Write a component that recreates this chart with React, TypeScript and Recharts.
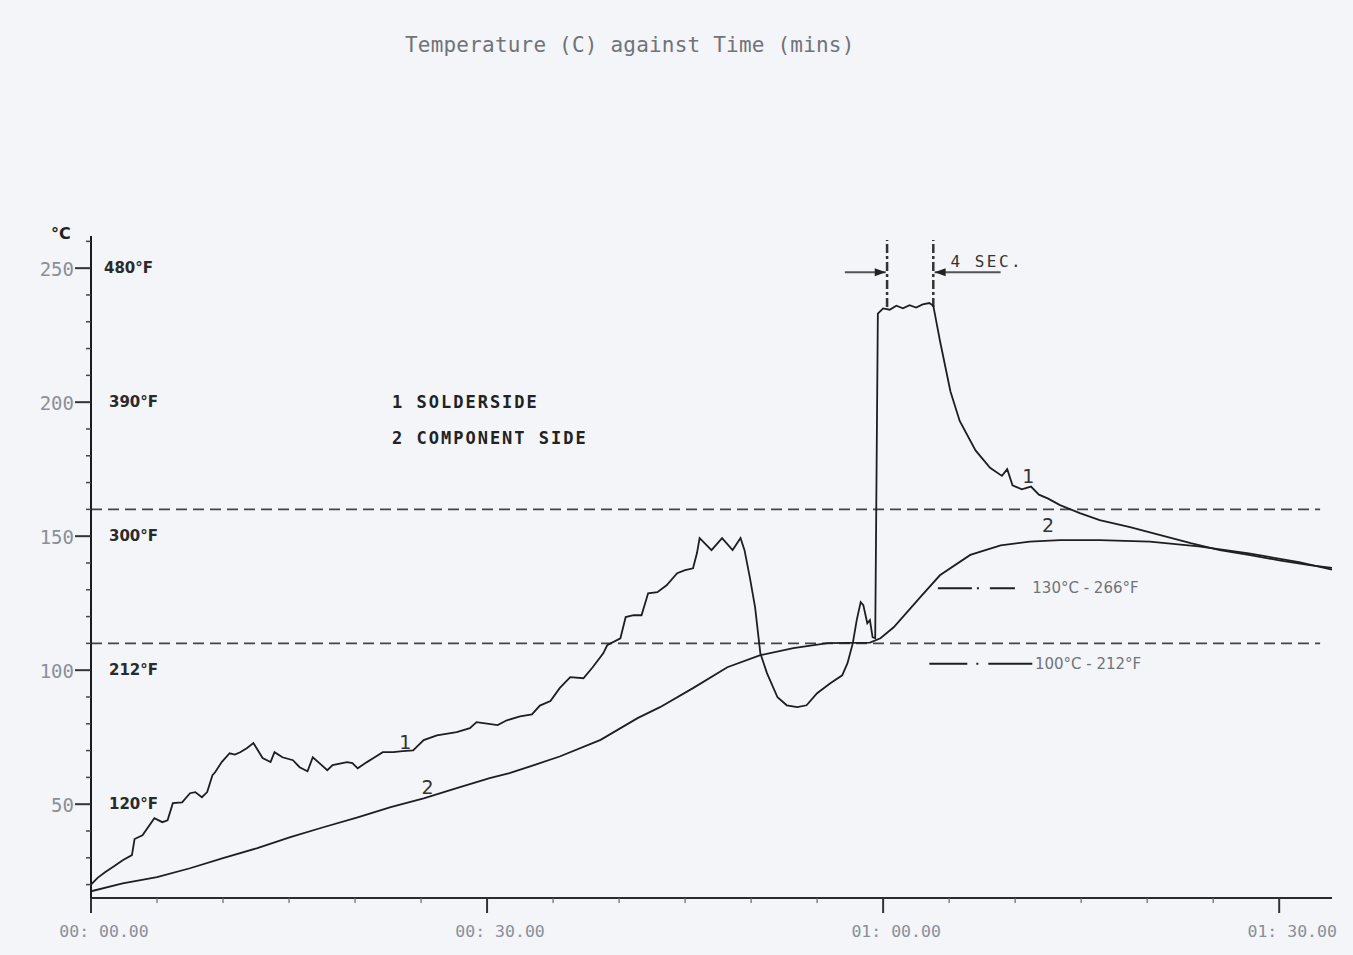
import React from 'react';
import { LineChart, Line, XAxis, YAxis, ReferenceLine, ReferenceDot } from 'recharts';

// time in minutes, temperature in °C
const solderSide = [
  { t: 0, v: 20 }, { t: 0.5, v: 22.5 }, { t: 1.06, v: 24.6 }, { t: 1.8, v: 27 }, { t: 2.4, v: 29.1 },
  { t: 3.1, v: 31 }, { t: 3.3, v: 37 }, { t: 3.9, v: 38.4 }, { t: 4.8, v: 44.8 }, { t: 5.4, v: 43.3 },
  { t: 5.8, v: 44 }, { t: 6.2, v: 50.4 }, { t: 6.9, v: 50.7 }, { t: 7.5, v: 54.1 }, { t: 7.9, v: 54.5 },
  { t: 8.4, v: 52.6 }, { t: 8.8, v: 54.5 }, { t: 9.2, v: 60.8 }, { t: 9.4, v: 61.9 }, { t: 9.9, v: 65.7 },
  { t: 10.5, v: 69 }, { t: 10.9, v: 68.5 }, { t: 11.3, v: 69.4 }, { t: 11.8, v: 70.9 }, { t: 12.3, v: 72.8 },
  { t: 13.0, v: 67.2 }, { t: 13.6, v: 65.7 }, { t: 13.9, v: 69.4 }, { t: 14.5, v: 67.5 }, { t: 15.3, v: 66.4 },
  { t: 15.8, v: 63.8 }, { t: 16.4, v: 62.3 }, { t: 16.8, v: 67.5 }, { t: 17.3, v: 65.3 }, { t: 17.9, v: 62.7 },
  { t: 18.3, v: 64.6 }, { t: 19.4, v: 65.7 }, { t: 19.8, v: 65.3 }, { t: 20.2, v: 63.4 }, { t: 20.9, v: 65.7 },
  { t: 21.4, v: 67.2 }, { t: 22.1, v: 69.4 }, { t: 22.9, v: 69.4 }, { t: 23.6, v: 69.8 }, { t: 24.4, v: 70.1 },
  { t: 25.2, v: 73.9 }, { t: 26.2, v: 75.7 }, { t: 27.7, v: 76.9 }, { t: 28.7, v: 78.4 }, { t: 29.2, v: 80.6 },
  { t: 30.8, v: 79.5 }, { t: 31.5, v: 81.3 }, { t: 32.5, v: 82.8 }, { t: 33.4, v: 83.5 }, { t: 34.0, v: 86.8 },
  { t: 34.8, v: 88.5 }, { t: 35.5, v: 93.3 }, { t: 36.3, v: 97.4 }, { t: 37.3, v: 97 }, { t: 38.0, v: 101.1 },
  { t: 38.8, v: 106.3 }, { t: 39.1, v: 109.3 }, { t: 40.1, v: 111.9 }, { t: 40.5, v: 119.8 }, { t: 41.1, v: 120.5 },
  { t: 41.7, v: 120.5 }, { t: 42.2, v: 128.7 }, { t: 42.9, v: 129.1 }, { t: 43.6, v: 131.7 }, { t: 44.4, v: 136.2 },
  { t: 45.0, v: 137.3 }, { t: 45.6, v: 138 }, { t: 45.9, v: 143.7 }, { t: 46.1, v: 149.3 }, { t: 47.0, v: 144.8 },
  { t: 47.8, v: 149.3 }, { t: 48.6, v: 144.8 }, { t: 49.2, v: 149.3 }, { t: 49.5, v: 144.8 }, { t: 49.9, v: 134.7 },
  { t: 50.3, v: 123.5 }, { t: 50.7, v: 106.3 }, { t: 51.2, v: 98.9 }, { t: 52.0, v: 89.9 }, { t: 52.7, v: 86.9 },
  { t: 53.5, v: 86.2 }, { t: 54.2, v: 86.9 }, { t: 55.0, v: 91.4 }, { t: 56.0, v: 95.1 }, { t: 56.9, v: 98.1 },
  { t: 57.3, v: 102.6 }, { t: 57.7, v: 110 }, { t: 58.0, v: 118.7 }, { t: 58.3, v: 125.4 }, { t: 58.5, v: 124.3 },
  { t: 58.8, v: 117.5 }, { t: 59.0, v: 118.7 }, { t: 59.2, v: 112.3 }, { t: 59.4, v: 111.9 }, { t: 59.6, v: 233 },
  { t: 60.0, v: 235 }, { t: 60.5, v: 234.5 }, { t: 61.0, v: 236 }, { t: 61.5, v: 235 }, { t: 62.0, v: 236.2 },
  { t: 62.5, v: 235.3 }, { t: 63.0, v: 236.5 }, { t: 63.5, v: 237 }, { t: 63.8, v: 236 }, { t: 64.3, v: 223 },
  { t: 65.1, v: 204 }, { t: 65.8, v: 193 }, { t: 67.0, v: 182 }, { t: 68.1, v: 175.5 }, { t: 69.0, v: 172.5 },
  { t: 69.4, v: 175 }, { t: 69.8, v: 169 }, { t: 70.5, v: 167.5 }, { t: 71.2, v: 168.5 }, { t: 71.8, v: 165.5 },
  { t: 72.5, v: 164 }, { t: 73.4, v: 161.6 }, { t: 74.9, v: 158.6 }, { t: 76.4, v: 156 }, { t: 78.7, v: 153.4 },
  { t: 81.0, v: 150.4 }, { t: 83.3, v: 147.4 }, { t: 85.5, v: 144.8 }, { t: 87.8, v: 142.9 }, { t: 90.0, v: 141 },
  { t: 92.3, v: 139.2 }, { t: 94.0, v: 138.2 },
];

const componentSide = [
  { t: 0, v: 17.5 }, { t: 2.4, v: 20.5 }, { t: 5.0, v: 22.8 }, { t: 7.5, v: 26.1 }, { t: 10.0, v: 29.9 },
  { t: 12.6, v: 33.6 }, { t: 15.1, v: 37.7 }, { t: 17.6, v: 41.4 }, { t: 20.2, v: 45.1 }, { t: 22.7, v: 48.9 },
  { t: 25.2, v: 52.2 }, { t: 27.7, v: 56 }, { t: 30.2, v: 59.7 }, { t: 31.7, v: 61.6 }, { t: 33.5, v: 64.5 },
  { t: 35.5, v: 67.8 }, { t: 38.6, v: 74 }, { t: 41.4, v: 82.1 }, { t: 43.1, v: 86.2 }, { t: 45.6, v: 93.3 },
  { t: 48.2, v: 101.1 }, { t: 50.7, v: 105.6 }, { t: 53.2, v: 108.2 }, { t: 55.8, v: 110.1 }, { t: 59.0, v: 110.3 },
  { t: 59.8, v: 111.9 }, { t: 60.8, v: 116 }, { t: 62.8, v: 127.2 }, { t: 64.3, v: 135.4 }, { t: 66.6, v: 143 },
  { t: 68.9, v: 146.6 }, { t: 71.1, v: 148 }, { t: 73.4, v: 148.5 }, { t: 76.4, v: 148.5 }, { t: 80.2, v: 148 },
  { t: 83.9, v: 146.2 }, { t: 87.7, v: 143.6 }, { t: 91.5, v: 140.3 }, { t: 94.0, v: 137.5 },
];

const xTicks = [0, 5, 10, 15, 20, 25, 30, 35, 40, 45, 50, 55, 60, 65, 70, 75, 80, 85, 90];
const xLabels: Record<number, string> = { 0: '00: 00.00', 30: '00: 30.00', 60: '01: 00.00', 90: '01: 30.00' };

const yTicks = [20, 30, 40, 50, 60, 70, 80, 90, 100, 110, 120, 130, 140, 150, 160, 170, 180, 190, 200, 210, 220, 230, 240, 250, 260];
const yLabels: Record<number, string> = { 50: '50', 100: '100', 150: '150', 200: '200', 250: '250' };
const fahrenheit: Record<number, string> = { 50: '120°F', 100: '212°F', 150: '300°F', 200: '390°F', 250: '480°F' };

const limitLines = [160, 110];

const INK = '#1e1e1e';
const GREY = '#8a8f98';
const AXIS_X = 91;
const AXIS_Y = 898;

const YTick = (props: any) => {
  const { y, payload } = props;
  const v = payload.value;
  if (yLabels[v]) {
    return (
      <g>
        <line x1={75} x2={AXIS_X} y1={y} y2={y} stroke="#333" strokeWidth={2} />
        <text x={74} y={y + 1} textAnchor="end" dominantBaseline="central" fill={GREY}
          style={{ fontFamily: 'DejaVu Sans Mono', fontSize: 19 }}>{yLabels[v]}</text>
        <text x={v === 250 ? 104 : 109} y={y} textAnchor="start" dominantBaseline="central" fill="#2a2a2a"
          style={{ fontFamily: 'DejaVu Sans', fontSize: 15, fontWeight: 600 }}>{fahrenheit[v]}</text>
      </g>
    );
  }
  return <line x1={86} x2={AXIS_X} y1={y} y2={y} stroke="#444" strokeWidth={1.5} />;
};

const XTick = (props: any) => {
  const { x, payload } = props;
  const v = payload.value;
  if (xLabels[v] !== undefined) {
    return (
      <g>
        <line x1={x} x2={x} y1={AXIS_Y} y2={AXIS_Y + 15} stroke="#333" strokeWidth={2} />
        <text x={x + 13} y={931} textAnchor="middle" dominantBaseline="central" fill={GREY}
          style={{ fontFamily: 'DejaVu Sans Mono', fontSize: 16.5 }}>{xLabels[v]}</text>
      </g>
    );
  }
  return <line x1={x} x2={x} y1={AXIS_Y} y2={AXIS_Y + 5} stroke="#666" strokeWidth={1.2} />;
};

const textAt = (content: string, style: React.CSSProperties, anchor: 'start' | 'middle' = 'start') =>
  (p: any) => (
    <text x={p.cx} y={p.cy} textAnchor={anchor} dominantBaseline="central" style={style} fill={style.color as string}>
      {content}
    </text>
  );

const arrowHead = (dir: 1 | -1) => (p: any) => (
  <polygon
    points={`${p.cx - 11 * dir},${p.cy - 4} ${p.cx},${p.cy} ${p.cx - 11 * dir},${p.cy + 4}`}
    fill="#222"
  />
);

const legendStyle: React.CSSProperties = { fontFamily: 'DejaVu Sans Mono', fontSize: 17, fontWeight: 600, letterSpacing: 2, color: '#222' };
const curveLabel: React.CSSProperties = { fontFamily: 'DejaVu Sans', fontSize: 19, color: '#333' };
const noteStyle: React.CSSProperties = { fontFamily: 'DejaVu Sans', fontSize: 15, color: '#6f737a' };

export default function App() {
  return (
    <div style={{ position: 'absolute', left: 0, top: 0, width: 1353, height: 955, background: '#f3f5f9', overflow: 'hidden' }}>
      <div style={{ position: 'absolute', left: 405, top: 33, fontFamily: 'DejaVu Sans Mono', fontSize: 21, color: '#707378', letterSpacing: 0.2, whiteSpace: 'pre' }}>
        Temperature (C) against Time (mins)
      </div>
      <div style={{ position: 'absolute', left: 51, top: 224, fontFamily: 'DejaVu Sans', fontSize: 16, fontWeight: 700, color: '#222' }}>
        °C
      </div>
      <LineChart width={1353} height={955} margin={{ top: 236, right: 21, bottom: 17, left: 31 }}>
        <XAxis
          dataKey="t"
          type="number"
          domain={[0, 94]}
          allowDataOverflow
          ticks={xTicks}
          interval={0}
          tick={<XTick />}
          tickLine={false}
          axisLine={{ stroke: '#2a2a2a', strokeWidth: 2 }}
          height={40}
        />
        <YAxis
          type="number"
          domain={[15, 262]}
          allowDataOverflow
          ticks={yTicks}
          interval={0}
          tick={<YTick />}
          tickLine={false}
          axisLine={{ stroke: '#1a1a1a', strokeWidth: 2 }}
          width={60}
        />

        {limitLines.map((v) => (
          <ReferenceLine key={v} segment={[{ x: 0, y: v }, { x: 93.1, y: v }]} stroke="#444" strokeWidth={1.6} strokeDasharray="11 6" />
        ))}

        {/* 4 sec markers */}
        <ReferenceLine segment={[{ x: 60.3, y: 235.5 }, { x: 60.3, y: 260.5 }]} stroke="#333" strokeWidth={2.5} strokeDasharray="9 3 3 3" />
        <ReferenceLine segment={[{ x: 63.8, y: 235.5 }, { x: 63.8, y: 260.5 }]} stroke="#333" strokeWidth={2.5} strokeDasharray="9 3 3 3" />
        <ReferenceLine segment={[{ x: 57.1, y: 248.5 }, { x: 60.2, y: 248.5 }]} stroke="#555" strokeWidth={2} />
        <ReferenceLine segment={[{ x: 63.9, y: 248.5 }, { x: 68.9, y: 248.5 }]} stroke="#555" strokeWidth={2} />
        <ReferenceDot x={60.2} y={248.5} shape={arrowHead(1)} />
        <ReferenceDot x={63.9} y={248.5} shape={arrowHead(-1)} />
        <ReferenceDot x={65.1} y={252.6} shape={textAt('4 SEC.', { fontFamily: 'DejaVu Sans Mono', fontSize: 16, letterSpacing: 2.5, color: '#333' })} />

        {/* limit legend */}
        <ReferenceLine segment={[{ x: 64.15, y: 130.6 }, { x: 70.0, y: 130.6 }]} stroke={INK} strokeWidth={2} strokeDasharray="34 5 2 11 25 200" />
        <ReferenceLine segment={[{ x: 63.5, y: 102.4 }, { x: 71.3, y: 102.4 }]} stroke={INK} strokeWidth={2} strokeDasharray="38 9 2 10 44 200" />
        <ReferenceDot x={71.3} y={130.6} shape={textAt('130°C - 266°F', noteStyle)} />
        <ReferenceDot x={71.5} y={102.4} shape={textAt('100°C - 212°F', noteStyle)} />

        {/* series legend */}
        <ReferenceDot x={22.8} y={200} shape={textAt('1 SOLDERSIDE', legendStyle)} />
        <ReferenceDot x={22.8} y={186.6} shape={textAt('2 COMPONENT SIDE', legendStyle)} />

        <Line data={componentSide} dataKey="v" type="linear" stroke={INK} strokeWidth={1.8} dot={false} isAnimationActive={false} />
        <Line data={solderSide} dataKey="v" type="linear" stroke={INK} strokeWidth={1.8} dot={false} isAnimationActive={false} />

        {/* curve labels */}
        <ReferenceDot x={23.8} y={73.3} shape={textAt('1', curveLabel, 'middle')} />
        <ReferenceDot x={25.5} y={56.6} shape={textAt('2', curveLabel, 'middle')} />
        <ReferenceDot x={71.0} y={172.5} shape={textAt('1', curveLabel, 'middle')} />
        <ReferenceDot x={72.5} y={154} shape={textAt('2', curveLabel, 'middle')} />
      </LineChart>
    </div>
  );
}
